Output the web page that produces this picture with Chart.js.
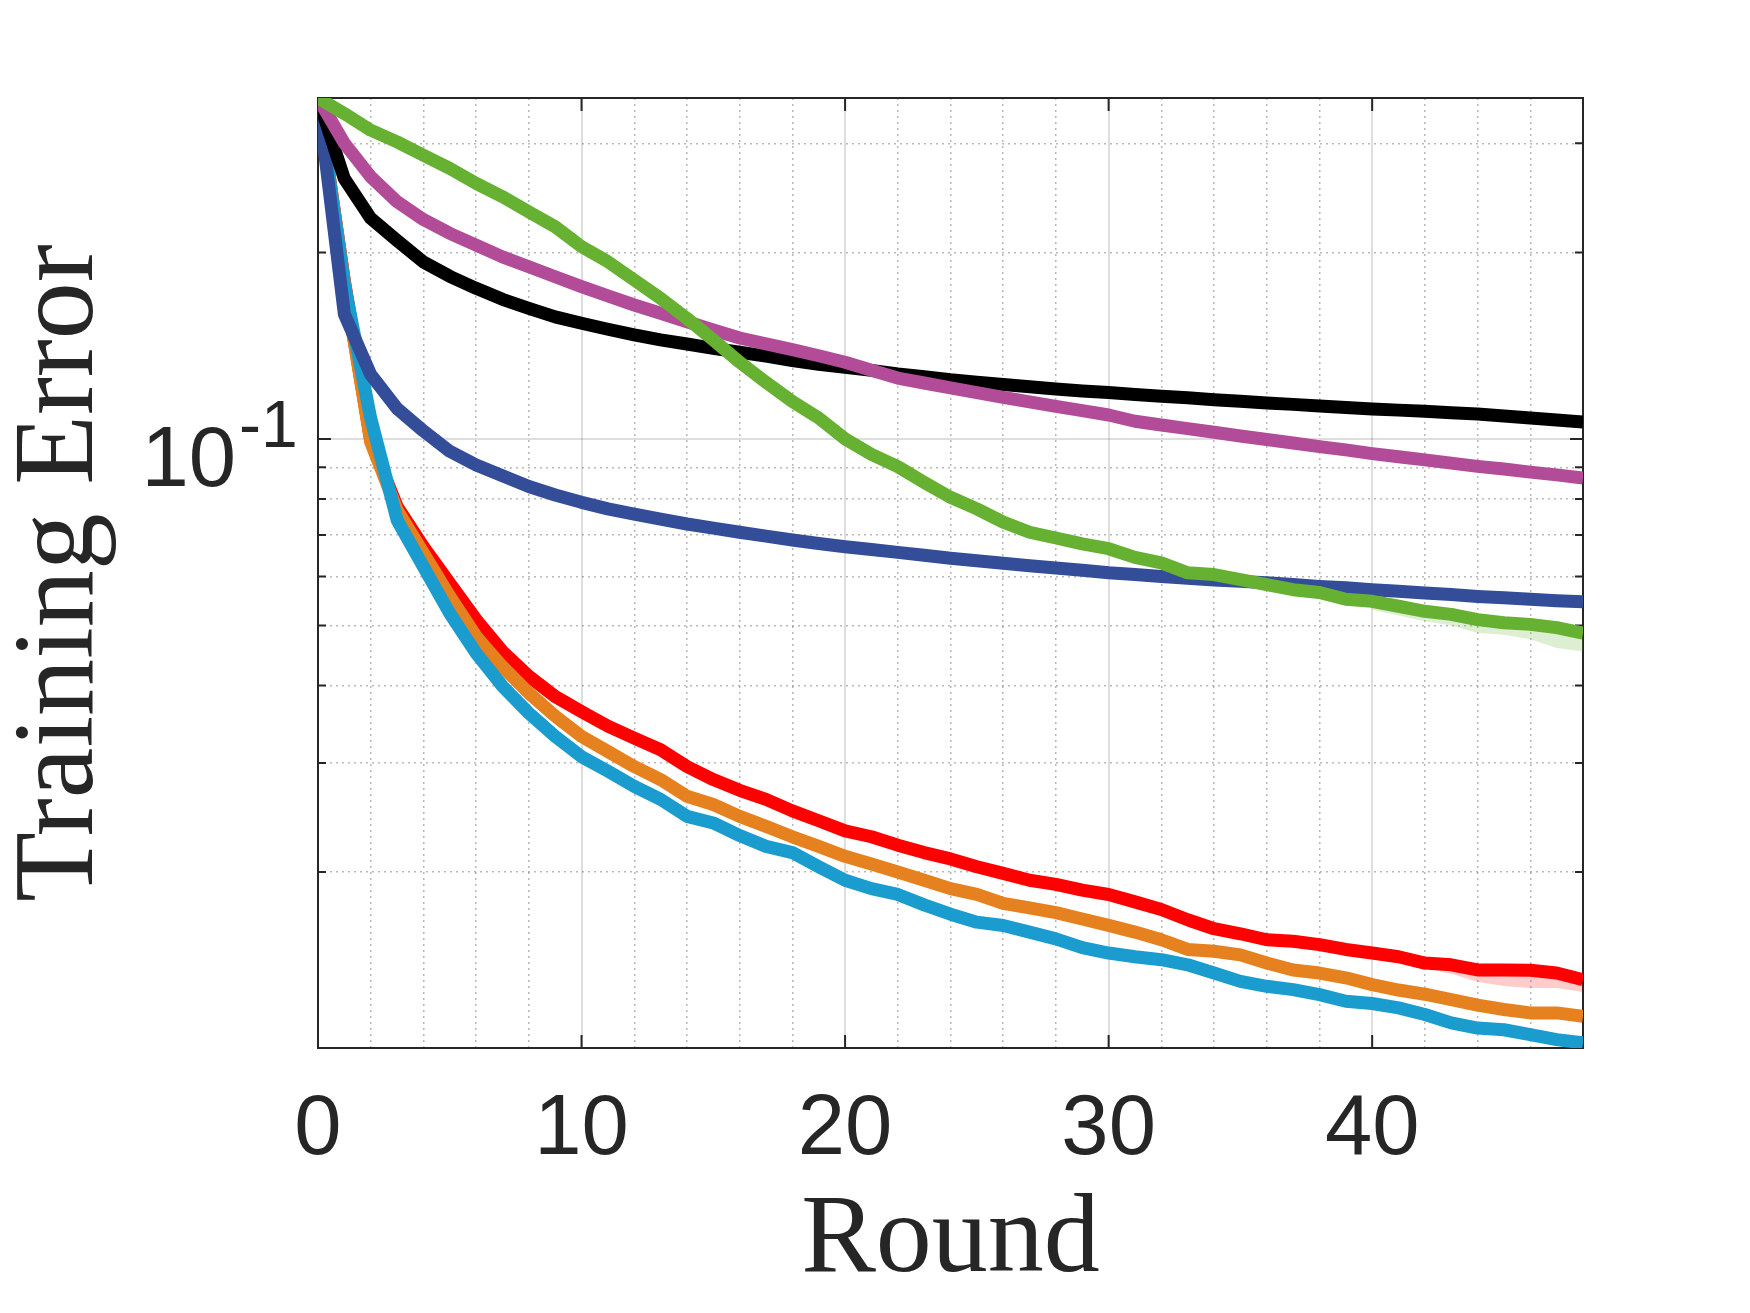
<!DOCTYPE html>
<html>
<head>
<meta charset="utf-8">
<title>Training Error by Round</title>
<script src="https://cdn.jsdelivr.net/npm/chart.js@4.4.1/dist/chart.umd.min.js"></script>
<style>
  html, body { margin: 0; padding: 0; background: #ffffff; }
  #wrap { position: relative; width: 1750px; height: 1313px; }
</style>
</head>
<body>
<div id="wrap"><canvas id="errChart"></canvas></div>
<script>
// x values (communication rounds)
const rounds = [0, 1, 2, 3, 4, 5, 6, 7, 8, 9, 10, 11, 12, 13, 14, 15, 16, 17, 18, 19,
  20, 21, 22, 23, 24, 25, 26, 27, 28, 29, 30, 31, 32, 33, 34, 35, 36, 37, 38, 39,
  40, 41, 42, 43, 44, 45, 46, 47, 48];

// training error per round
const greenErr = [0.355, 0.335, 0.315, 0.3016, 0.287, 0.2733, 0.2585, 0.246, 0.2326, 0.220,
  0.2043, 0.1932, 0.1805, 0.1686, 0.1565, 0.1445, 0.1330, 0.1234, 0.1149, 0.1081,
  0.100, 0.0944, 0.0902, 0.0851, 0.0805, 0.0771, 0.0734, 0.0707, 0.0692, 0.0677,
  0.0665, 0.0644, 0.0631, 0.0608, 0.0604, 0.0593, 0.0582, 0.0571, 0.0565, 0.0551,
  0.0547, 0.0537, 0.0527, 0.0521, 0.0511, 0.0505, 0.0502, 0.0496, 0.0486];
const magentaErr = [0.355, 0.300, 0.265, 0.2415, 0.226, 0.2147, 0.2055, 0.1967, 0.1896, 0.1827,
  0.1761, 0.1701, 0.1645, 0.1595, 0.1546, 0.1499, 0.1455, 0.1424, 0.1394, 0.1362,
  0.1330, 0.1291, 0.1254, 0.1231, 0.1209, 0.1188, 0.1167, 0.1148, 0.1129, 0.1111,
  0.1093, 0.1068, 0.1053, 0.1039, 0.1025, 0.1011, 0.0998, 0.0985, 0.0972, 0.0960,
  0.0947, 0.0936, 0.0925, 0.0914, 0.0903, 0.0894, 0.0884, 0.0875, 0.0865];
const blackErr = [0.355, 0.263, 0.227, 0.209, 0.193, 0.183, 0.175, 0.168, 0.1625, 0.1574,
  0.1537, 0.1503, 0.1472, 0.1445, 0.1423, 0.140, 0.138, 0.136, 0.1338, 0.132,
  0.1305, 0.129, 0.1273, 0.126, 0.1246, 0.1235, 0.1224, 0.1214, 0.1204, 0.1195,
  0.1188, 0.118, 0.1172, 0.1165, 0.1157, 0.115, 0.1143, 0.1137, 0.113, 0.1124,
  0.1118, 0.1113, 0.1108, 0.1102, 0.1097, 0.1089, 0.1081, 0.1073, 0.1065];
const blueErr = [0.355, 0.159, 0.127, 0.112, 0.103, 0.0955, 0.0908, 0.0872, 0.0838, 0.0812,
  0.0790, 0.0771, 0.0756, 0.0742, 0.0729, 0.0718, 0.0707, 0.0697, 0.0687, 0.0678,
  0.0670, 0.0663, 0.0656, 0.0649, 0.0642, 0.0636, 0.0630, 0.0624, 0.0619, 0.0614,
  0.0608, 0.0604, 0.0600, 0.0596, 0.0592, 0.0589, 0.0586, 0.0582, 0.0578, 0.0575,
  0.0571, 0.0568, 0.0564, 0.0561, 0.0557, 0.0554, 0.0551, 0.0548, 0.0546];
const cyanErr = [0.355, 0.178, 0.108, 0.0740, 0.0622, 0.0523, 0.0451, 0.0399, 0.0361, 0.0331,
  0.0307, 0.0291, 0.0275, 0.0262, 0.0246, 0.0240, 0.0229, 0.0220, 0.0215, 0.0204,
  0.0194, 0.0188, 0.0184, 0.0177, 0.0171, 0.0166, 0.0164, 0.0160, 0.0156, 0.0151,
  0.0148, 0.0146, 0.01444, 0.01417, 0.01374, 0.01332, 0.01308, 0.01292, 0.01268, 0.01237,
  0.01227, 0.01207, 0.01178, 0.01142, 0.0112, 0.01113, 0.01093, 0.01073, 0.0106];
const orangeErr = [0.355, 0.179, 0.0988, 0.0768, 0.0654, 0.0557, 0.0480, 0.0429, 0.0389, 0.0357,
  0.0331, 0.0313, 0.0296, 0.0282, 0.0265, 0.0257, 0.0246, 0.0237, 0.0228, 0.0220,
  0.0212, 0.0206, 0.0200, 0.0194, 0.0188, 0.0184, 0.0178, 0.0175, 0.0172, 0.0168,
  0.0164, 0.0160, 0.01555, 0.0150, 0.0149, 0.0147, 0.01426, 0.0139, 0.01374, 0.0135,
  0.01316, 0.0129, 0.0127, 0.01245, 0.0122, 0.0120, 0.01185, 0.01185, 0.0117];
const redErr = [0.355, 0.180, 0.0995, 0.0778, 0.0670, 0.0585, 0.0511, 0.0454, 0.0414, 0.0384,
  0.0363, 0.0344, 0.0329, 0.0315, 0.0296, 0.0282, 0.0271, 0.0262, 0.0251, 0.0242,
  0.0233, 0.0228, 0.0221, 0.0215, 0.0210, 0.0204, 0.0199, 0.0194, 0.0191, 0.0187,
  0.0184, 0.0179, 0.0174, 0.01675, 0.0162, 0.0159, 0.01555, 0.01546, 0.01527, 0.0150,
  0.0148, 0.0146, 0.01426, 0.01417, 0.0139, 0.0139, 0.01388, 0.01374, 0.0134];

// shaded spread where it shows past the line
const greenBandRounds = [40, 41, 42, 43, 44, 45, 46, 47, 48];
const greenBandHigh = [0.0552, 0.0542, 0.0532, 0.0526, 0.0516, 0.0510, 0.0507, 0.0501, 0.0491];
const greenBandLow = [0.0530, 0.0519, 0.0508, 0.0500, 0.0486, 0.0483, 0.0475, 0.0460, 0.0454];
const redBandRounds = [42, 43, 44, 45, 46, 47, 48];
const redBandHigh = [0.0144, 0.0143, 0.0141, 0.0140, 0.0140, 0.0139, 0.0136];
const redBandLow = [0.0140, 0.0137, 0.0133, 0.0131, 0.0130, 0.0130, 0.0128];

// axis ticks
const xMajorTicks = [0, 10, 20, 30, 40];
const xMinorTicks = [2, 4, 6, 8, 12, 14, 16, 18, 22, 24, 26, 28, 32, 34, 36, 38, 42, 44, 46];
const yMajorTicks = [0.1];
const yMinorTicks = [0.02, 0.03, 0.04, 0.05, 0.06, 0.07, 0.08, 0.09, 0.2, 0.3];
const X_MIN = 0, X_MAX = 48;
const Y_MIN = 0.0104, Y_MAX = 0.355;

const TEXT = '#262626';
const SERIF = '"Liberation Serif", "Times New Roman", serif';
const SANS = '"Liberation Sans", Arial, sans-serif';

function toPoints(xs, ys) {
    return ys.map((v, i) => ({ x: xs[i], y: v }));
}

function lineSet(label, values, color) {
    return {
        label: label,
        data: toPoints(rounds, values),
        borderColor: color,
        backgroundColor: color,
        borderWidth: 13,
        pointRadius: 0,
        tension: 0,
        fill: false,
        borderJoinStyle: 'round',
        borderCapStyle: 'butt'
    };
}

function bandSet(xs, values, color, fillTo) {
    return {
        data: toPoints(xs, values),
        borderWidth: 0,
        borderColor: 'rgba(0,0,0,0)',
        backgroundColor: color,
        pointRadius: 0,
        tension: 0,
        fill: fillTo
    };
}

// box, inward tick marks and the 10^-1 label
const axesBox = {
    id: 'axesBox',
    beforeDatasetsDraw(chart) {
        const { ctx, chartArea: a, scales } = chart;
        ctx.save();
        ctx.strokeStyle = TEXT;
        ctx.lineWidth = 2;
        ctx.strokeRect(a.left, a.top, a.right - a.left, a.bottom - a.top);

        ctx.beginPath();
        xMajorTicks.forEach(v => {
            if (v === X_MIN) return;
            const px = scales.x.getPixelForValue(v);
            ctx.moveTo(px, a.bottom); ctx.lineTo(px, a.bottom - 13);
            ctx.moveTo(px, a.top); ctx.lineTo(px, a.top + 13);
        });
        yMajorTicks.forEach(v => {
            const py = scales.y.getPixelForValue(v);
            ctx.moveTo(a.left, py); ctx.lineTo(a.left + 13, py);
            ctx.moveTo(a.right, py); ctx.lineTo(a.right - 13, py);
        });
        yMinorTicks.forEach(v => {
            const py = scales.y.getPixelForValue(v);
            ctx.moveTo(a.left, py); ctx.lineTo(a.left + 8, py);
            ctx.moveTo(a.right, py); ctx.lineTo(a.right - 8, py);
        });
        ctx.stroke();

        ctx.fillStyle = TEXT;
        yMajorTicks.forEach(v => {
            const py = scales.y.getPixelForValue(v);
            const exp = Math.round(Math.log10(v));
            ctx.font = '85px ' + SANS;
            ctx.textAlign = 'right';
            ctx.textBaseline = 'alphabetic';
            ctx.fillText('10', a.left - 82, py + 47);
            ctx.font = '66px ' + SANS;
            ctx.textAlign = 'left';
            ctx.fillText(String(exp), a.left - 79, py + 8);
        });
        ctx.restore();
    }
};

new Chart(document.getElementById('errChart'), {
    type: 'line',
    data: {
        datasets: [
            lineSet('green', greenErr, '#66B032'),
            lineSet('magenta', magentaErr, '#B24C98'),
            lineSet('black', blackErr, '#000000'),
            lineSet('blue', blueErr, '#334D99'),
            lineSet('cyan', cyanErr, '#1A9CCE'),
            lineSet('orange', orangeErr, '#E5811E'),
            lineSet('red', redErr, '#FF0000'),
            bandSet(greenBandRounds, greenBandHigh, 'rgba(102,176,50,0.22)', '+1'),
            bandSet(greenBandRounds, greenBandLow, 'rgba(102,176,50,0.22)', false),
            bandSet(redBandRounds, redBandHigh, 'rgba(255,0,0,0.2)', '+1'),
            bandSet(redBandRounds, redBandLow, 'rgba(255,0,0,0.2)', false)
        ]
    },
    options: {
        responsive: true,
        maintainAspectRatio: false,
        animation: false,
        layout: { padding: { top: 98, right: 167, bottom: 0, left: 0 } },
        plugins: {
            legend: { display: false },
            tooltip: { enabled: false }
        },
        scales: {
            x: {
                type: 'linear',
                min: X_MIN,
                max: X_MAX,
                position: 'bottom',
                afterBuildTicks: s => { s.ticks = xMajorTicks.map(v => ({ value: v })); },
                afterFit: s => { s.height = 265; },
                ticks: {
                    autoSkip: false,
                    maxRotation: 0,
                    padding: 32,
                    color: TEXT,
                    font: { family: SANS, size: 85, lineHeight: 1.2 }
                },
                grid: { color: 'rgba(0,0,0,0.13)', lineWidth: 2, drawTicks: false },
                border: { display: false },
                title: {
                    display: true,
                    text: 'Round',
                    color: TEXT,
                    font: { family: SERIF, size: 112, lineHeight: 1 },
                    padding: { top: 0, bottom: 15 }
                }
            },
            xMinor: {
                type: 'linear',
                min: X_MIN,
                max: X_MAX,
                position: 'bottom',
                afterBuildTicks: s => { s.ticks = xMinorTicks.map(v => ({ value: v })); },
                afterFit: s => { s.height = 0; },
                ticks: { display: false },
                grid: { color: 'rgba(0,0,0,0.28)', lineWidth: 1.5, drawTicks: false },
                border: { display: false, dash: [2, 4] }
            },
            y: {
                type: 'logarithmic',
                min: Y_MIN,
                max: Y_MAX,
                position: 'left',
                afterBuildTicks: s => { s.ticks = yMajorTicks.map(v => ({ value: v })); },
                afterFit: s => { s.width = 318; },
                ticks: { display: false },
                grid: { color: 'rgba(0,0,0,0.13)', lineWidth: 2, drawTicks: false },
                border: { display: false },
                title: {
                    display: true,
                    text: 'Training Error',
                    color: TEXT,
                    font: { family: SERIF, size: 114, lineHeight: 1 },
                    padding: { top: 5, bottom: 0 }
                }
            },
            yMinor: {
                type: 'logarithmic',
                min: Y_MIN,
                max: Y_MAX,
                position: 'left',
                afterBuildTicks: s => { s.ticks = yMinorTicks.map(v => ({ value: v })); },
                afterFit: s => { s.width = 0; },
                ticks: { display: false },
                grid: { color: 'rgba(0,0,0,0.28)', lineWidth: 1.5, drawTicks: false },
                border: { display: false, dash: [2, 4] }
            }
        }
    },
    plugins: [axesBox]
});
</script>
</body>
</html>
